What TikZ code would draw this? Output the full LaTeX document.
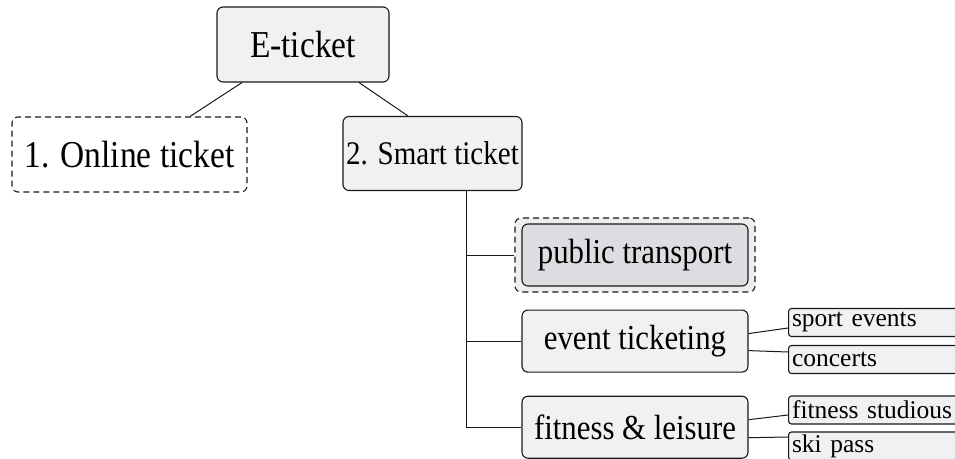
\documentclass[tikz,border=0pt]{standalone}
\usepackage{fontspec}
\setmainfont{Liberation Serif}[FakeStretch=0.88]
\newfontfamily\tagfont{Liberation Serif}
\usetikzlibrary{positioning}

\definecolor{boxgray}{HTML}{F0F1F3}
\definecolor{hilite}{HTML}{DCDDE0}
\definecolor{halogray}{HTML}{EEEEEF}

\tikzset{
  box/.style     = {shape=rectangle, rounded corners=6pt,
                    draw=black!90, line width=1.1pt, fill=boxgray,
                    align=center, inner sep=0pt,
                    font=\fontsize{35}{40}\selectfont},
  root/.style    = {box, minimum width=172pt, minimum height=75pt,
                    font=\fontsize{38}{42}\selectfont},
  branch/.style  = {box, minimum width=179pt, minimum height=74pt},
  dashbox/.style = {branch, dash pattern=on 6pt off 4pt, fill=white,
                    minimum width=235pt, minimum height=75pt,
                    font=\fontsize{38}{42}\selectfont},
  leaf/.style    = {box, minimum width=226pt, minimum height=62pt},
  picked/.style  = {leaf, fill=hilite},
  halo/.style    = {box, dash pattern=on 6pt off 4pt, fill=halogray,
                    minimum width=240pt, minimum height=74pt},
  tag/.style     = {box, rounded corners=3pt, anchor=west,
                    minimum height=28pt, text width=192pt, inner xsep=3.5pt,
                    align=left, font=\tagfont\fontsize{25.5}{28}\selectfont},
  link/.style    = {draw=black!90, line width=1pt}
}

\begin{document}
\begin{tikzpicture}[x=1pt, y=1pt, node distance=23pt]
\useasboundingbox (0,0) rectangle (955,-458);
\clip (0,0) rectangle (955,-458);

\node [root] (eticket) at (303,-44.5) {E-ticket};
\node [dashbox] (online) at (129.5,-154.5) {1. Online ticket};
\node [branch, font=\fontsize{33}{38}\selectfont] (smart) at (432.5,-153.5) {2. Smart ticket};

% smart ticket fields
\node [halo] (halo) at (635,-255) {};
\node [picked] (transport) at (halo) {public transport};
\node [leaf, below=of transport] (events) {event ticketing};
\node [leaf, below=of events] (leisure) {fitness \& leisure};

\node [tag] (sport) at (788,-322.5) {sport events};
\node [tag] (concerts) at (788,-359.5) {concerts};
\node [tag] (studios) at (788,-410) {fitness studious};
\node [tag] (skipass) at (788,-446) {ski pass};

\draw [link] ([xshift=-61pt]eticket.south) -- ([xshift=60.5pt]online.north);
\draw [link] ([xshift=56pt]eticket.south) -- ([xshift=-24.5pt]smart.north);

\draw [link] ([xshift=33.5pt]smart.south) coordinate (trunk) |- (leisure.west);
\draw [link] (trunk |- halo.west) -- (halo.west);
\draw [link] (trunk |- events.west) -- (events.west);

\draw [link] ([yshift=7.5pt]events.east) -- ([yshift=-5.5pt]sport.west);
\draw [link] ([yshift=-9.5pt]events.east) -- ([yshift=7.5pt]concerts.west);
\draw [link] ([yshift=7.5pt]leisure.east) -- ([yshift=-5pt]studios.west);
\draw [link] ([yshift=-10.5pt]leisure.east) -- ([yshift=9pt]skipass.west);
\end{tikzpicture}
\end{document}
